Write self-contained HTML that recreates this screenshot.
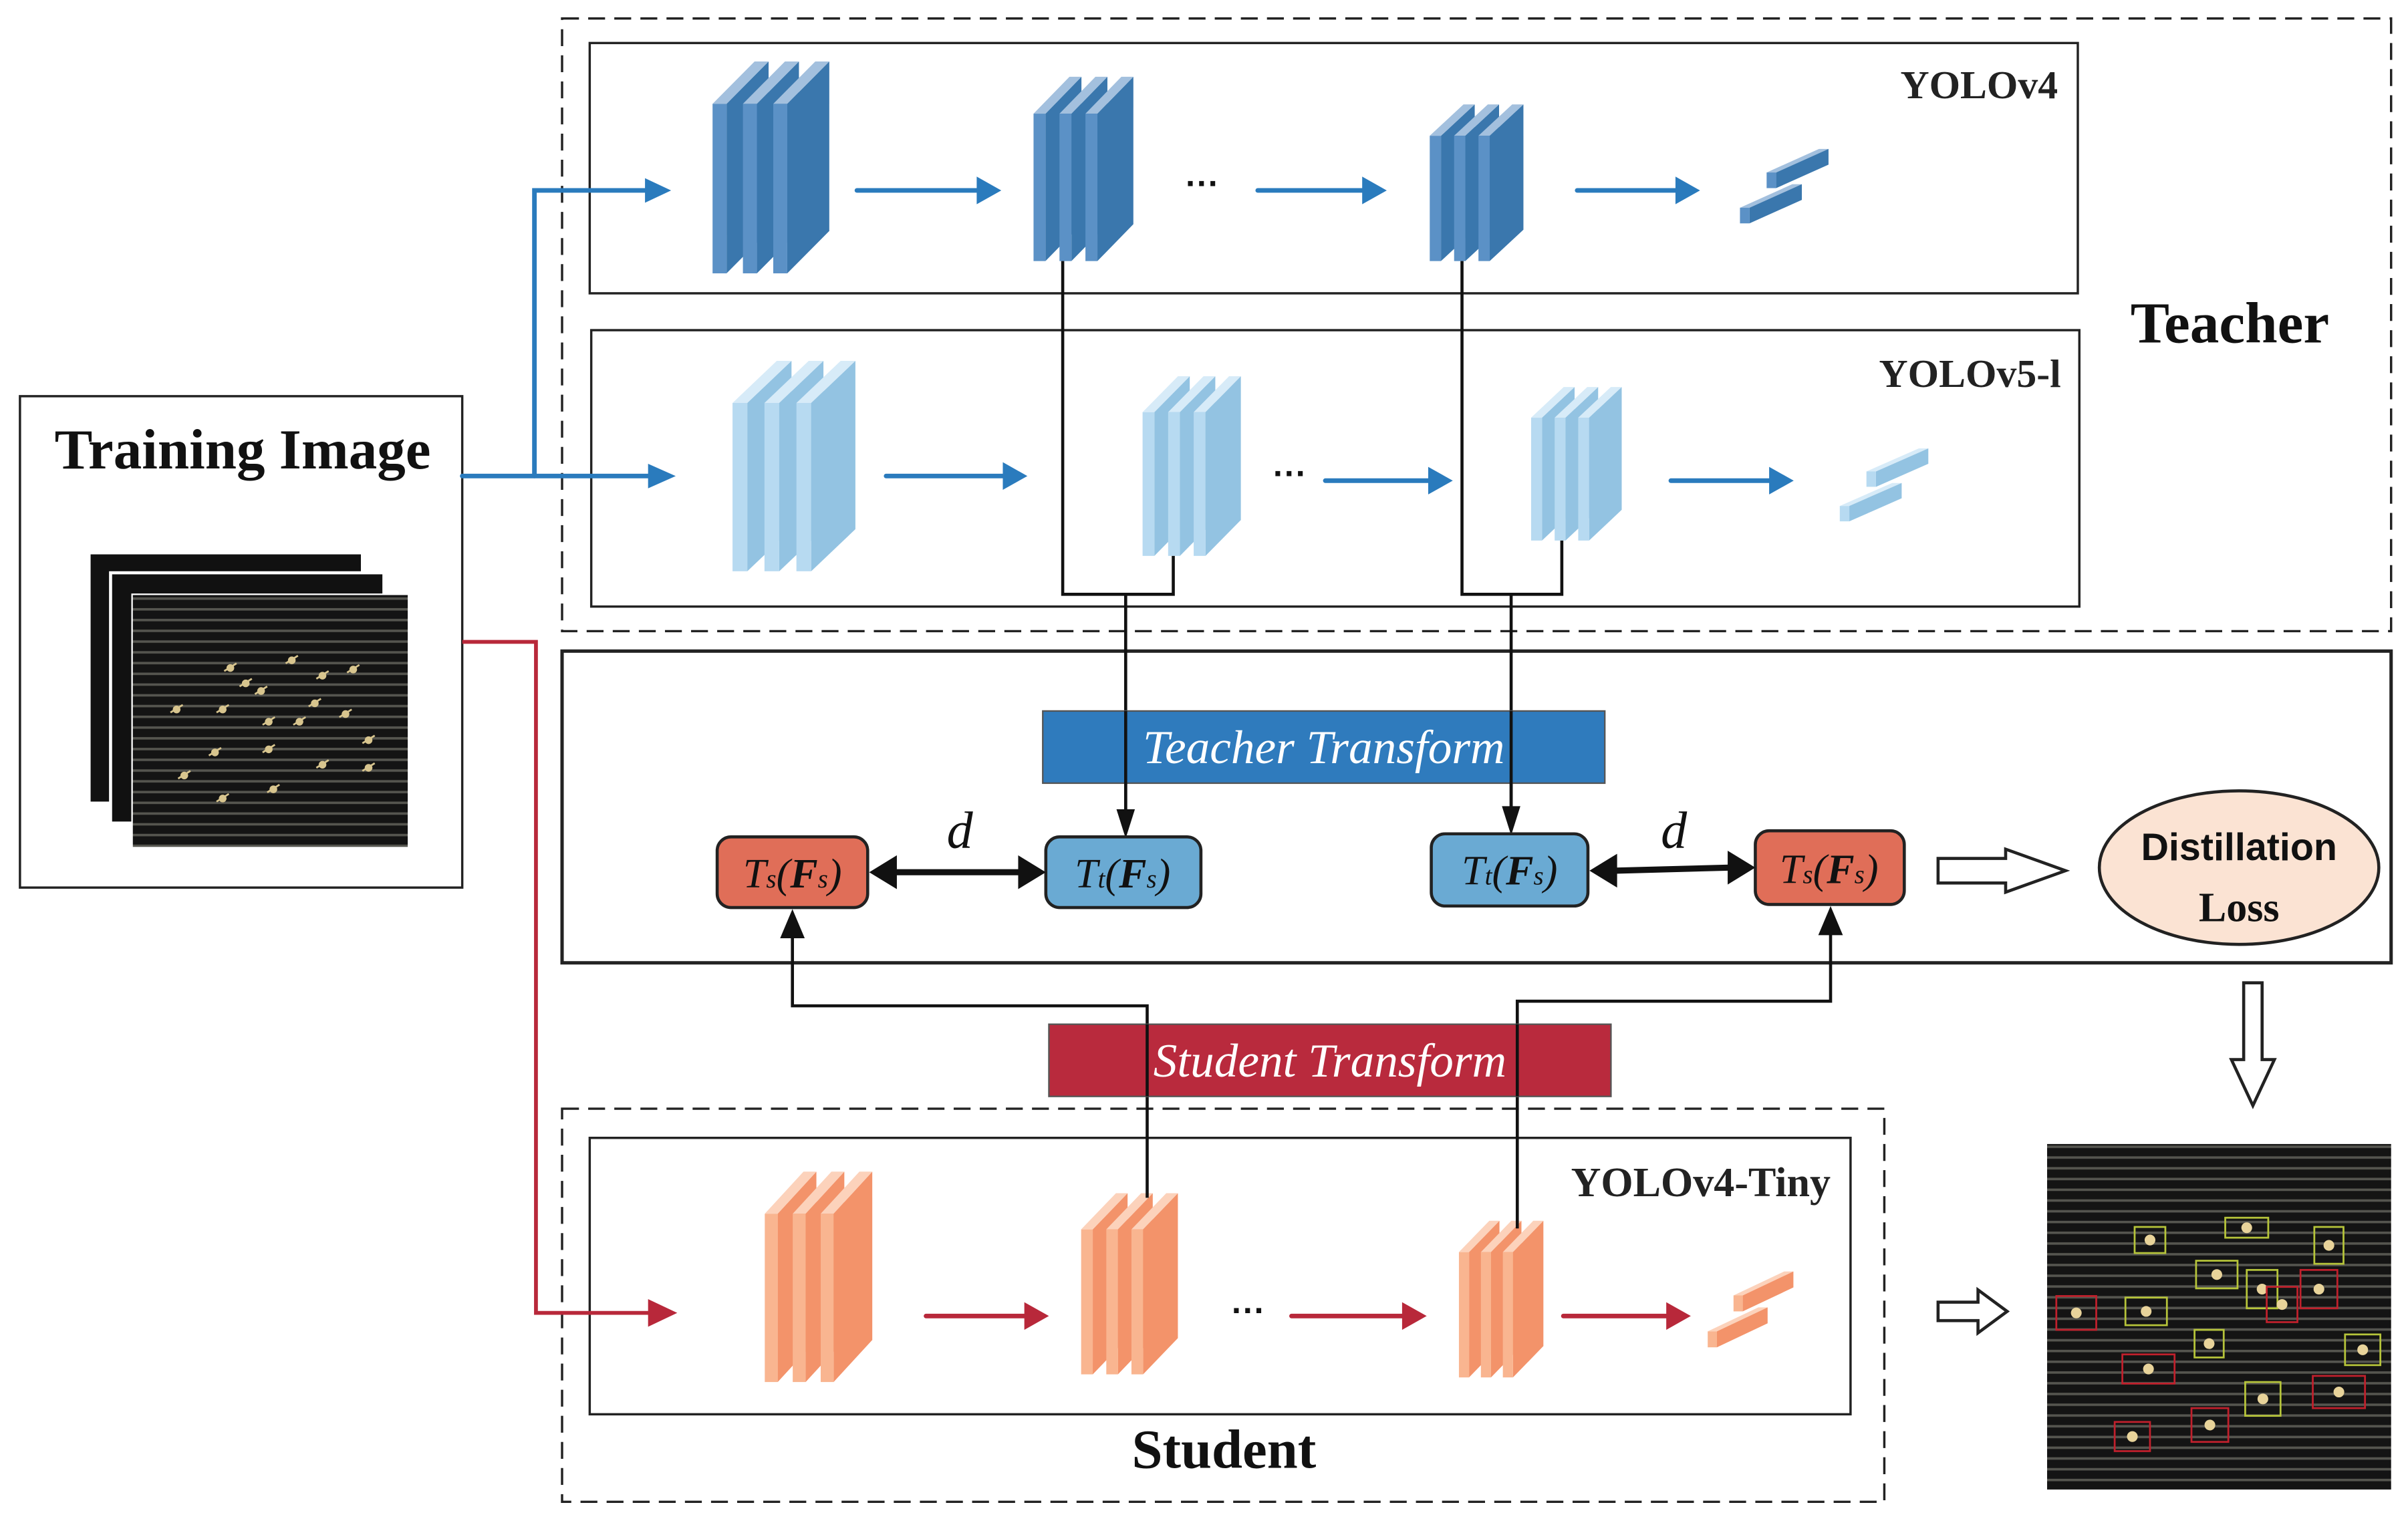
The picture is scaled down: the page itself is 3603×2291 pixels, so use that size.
<!DOCTYPE html>
<html><head><meta charset="utf-8"><style>
html,body{margin:0;padding:0;background:#fff;}
svg{display:block;}
.serif{font-family:"Liberation Serif",serif;}
</style></head><body>
<svg id="s" width="3603" height="2291" viewBox="0 0 1568 997" xmlns="http://www.w3.org/2000/svg">
<defs>
<pattern id="stripe" width="10" height="7" patternUnits="userSpaceOnUse"><rect width="10" height="7" fill="#141414"/><rect y="4" width="10" height="1.6" fill="#55554f"/></pattern>
</defs>
<rect width="1568" height="997" fill="#fff"/>
<rect x="366" y="12" width="1191" height="399" fill="none" stroke="#222" stroke-width="1.5" stroke-dasharray="11,6"/>
<rect x="384" y="28" width="969" height="163" fill="none" stroke="#222" stroke-width="1.5"/>
<rect x="385" y="215" width="969" height="180" fill="none" stroke="#222" stroke-width="1.5"/>
<text x="1340" y="64" text-anchor="end" class="serif" font-weight="bold" font-size="26" fill="#222">YOLOv4</text>
<text x="1342" y="252" text-anchor="end" class="serif" font-weight="bold" font-size="26" fill="#222">YOLOv5-l</text>
<text x="1452" y="223" text-anchor="middle" class="serif" font-weight="bold" font-size="38" fill="#111">Teacher</text>
<rect x="13" y="258" width="288" height="320" fill="#fff" stroke="#222" stroke-width="1.5"/>
<text x="158" y="305" text-anchor="middle" class="serif" font-weight="bold" font-size="37" fill="#111">Training Image</text>
<rect x="58" y="360" width="178" height="163" fill="#111" stroke="#fff" stroke-width="2"/>
<rect x="72" y="373" width="178" height="163" fill="#111" stroke="#fff" stroke-width="2"/>
<rect x="86" y="387" width="180" height="165" fill="url(#stripe)" stroke="#fff" stroke-width="1"/>
<g id="dots1" fill="#d8c58e"></g>
<rect x="366" y="424" width="1191" height="203" fill="none" stroke="#222" stroke-width="2.2"/>
<rect x="366" y="722" width="861" height="256" fill="none" stroke="#222" stroke-width="1.5" stroke-dasharray="11,6"/>
<rect x="384" y="741" width="821" height="180" fill="none" stroke="#222" stroke-width="1.5"/>
<text x="1192" y="779" text-anchor="end" class="serif" font-weight="bold" font-size="27" fill="#222">YOLOv4-Tiny</text>
<text x="797" y="956" text-anchor="middle" class="serif" font-weight="bold" font-size="36" fill="#111">Student</text>
<g id="blocks"></g>
<g stroke="#2a7bbd" stroke-width="3" fill="none" stroke-linecap="round">
<path d="M301,310 H422"/><path d="M348,310 V124 H420"/>
</g>
<g fill="#2a7bbd">
<path d="M420,116 L437,124 L420,132z"/><path d="M422,302 L440,310 L422,318z"/>
</g>
<g id="arrows"></g>
<path d="M301,418 H349 V855 H424" stroke="#b8283a" stroke-width="2.5" fill="none"/>
<path d="M422,846 L441,855 L422,864z" fill="#b8283a"/>
<g stroke="#111" stroke-width="2" fill="none">
<path d="M692,170 V387 H764 V362"/><path d="M733,387 V530"/>
<path d="M952,170 V387 H1017 V352"/><path d="M984,387 V528"/>
<path d="M747,780 V655 H516 V608"/>
<path d="M988,800 V652 H1192 V606"/>
</g>
<g fill="#111">
<path d="M727,527 L733,546 L739,527z"/><path d="M978,525 L984,544 L990,525z"/>
<path d="M508,611 L516,592 L524,611z"/><path d="M1184,609 L1192,590 L1200,609z"/>
</g>
<rect x="679" y="463" width="366" height="47" fill="#2f7bbd" stroke="#555" stroke-width="1"/>
<text x="862" y="497" text-anchor="middle" class="serif" font-style="italic" font-size="31" fill="#fff">Teacher Transform</text>
<rect x="683" y="667" width="366" height="47" fill="#b92a3d" stroke="#555" stroke-width="1"/>
<text x="866" y="701" text-anchor="middle" class="serif" font-style="italic" font-size="31" fill="#fff">Student Transform</text>
<g stroke="#111" stroke-width="2"><path d="M733,463 V528"/><path d="M984,463 V526"/><path d="M747,667 V714"/><path d="M988,667 V714"/></g>
<g stroke="#222" stroke-width="2">
<rect x="467" y="545" width="98" height="46" rx="9" fill="#e06e58"/>
<rect x="681" y="545" width="101" height="46" rx="9" fill="#6aaad3"/>
<rect x="932" y="543" width="102" height="47" rx="9" fill="#6aaad3"/>
<rect x="1143" y="541" width="97" height="48" rx="9" fill="#e06e58"/>
</g>
<g class="serif" font-style="italic" font-size="27" fill="#111" text-anchor="middle">
<text x="516" y="578">T<tspan font-size="17">s</tspan>(<tspan font-weight="bold">F</tspan><tspan font-size="17">s</tspan>)</text>
<text x="731" y="578">T<tspan font-size="17">t</tspan>(<tspan font-weight="bold">F</tspan><tspan font-size="17">s</tspan>)</text>
<text x="983" y="576">T<tspan font-size="17">t</tspan>(<tspan font-weight="bold">F</tspan><tspan font-size="17">s</tspan>)</text>
<text x="1191" y="575">T<tspan font-size="17">s</tspan>(<tspan font-weight="bold">F</tspan><tspan font-size="17">s</tspan>)</text>
<text x="625" y="552" font-size="34">d</text>
<text x="1090" y="552" font-size="34">d</text>
</g>
<g fill="#111">
<path d="M583,568 H664" stroke="#111" stroke-width="4"/>
<path d="M566,568 L584,557 L584,579z"/><path d="M681,568 L663,557 L663,579z"/>
<path d="M1052,567 L1126,565" stroke="#111" stroke-width="4"/>
<path d="M1035,567 L1053,556 L1053,578z"/><path d="M1143,565 L1125,554 L1125,576z"/>
</g>
<g fill="#fff" stroke="#222" stroke-width="2">
<path d="M1262,559 H1306 V553 L1345,567 L1306,581 V575 H1262z"/>
<path d="M1461,640 V690 H1453 L1467,720 L1481,690 H1473 V640z"/>
<path d="M1262,848 H1288 V840 L1307,854 L1288,868 V860 H1262z"/>
</g>
<ellipse cx="1458" cy="565" rx="91" ry="50" fill="#fbe3d3" stroke="#222" stroke-width="2"/>
<text x="1458" y="560" text-anchor="middle" font-family="Liberation Sans,sans-serif" font-weight="bold" font-size="25" fill="#111">Distillation</text>
<text x="1458" y="600" text-anchor="middle" class="serif" font-weight="bold" font-size="27" fill="#111">Loss</text>
<rect x="1333" y="745" width="224" height="225" fill="url(#stripe)"/>
<g id="res" fill="none" stroke-width="1.2"></g>
<g font-family="Liberation Sans,sans-serif" font-weight="bold" font-size="22" fill="#111" text-anchor="middle">
<text x="783" y="127">···</text><text x="840" y="316">···</text><text x="813" y="861">···</text>
</g>
</svg>
<script>
var NS="http://www.w3.org/2000/svg";
function el(p,t,a){var e=document.createElementNS(NS,t);for(var k in a)e.setAttribute(k,a[k]);p.appendChild(e);return e;}
var B=document.getElementById('blocks');
function block(x0,x1,y0,y1,c){
 var W=x1-x0, gap=W*0.26, fw=W*0.12, dx=W-2*gap-fw, dy=(y1-y0)*0.2;
 for(var i=0;i<3;i++){
  var x=x0+i*gap, yt=y0+dy;
  el(B,'polygon',{points:(x+fw)+','+yt+' '+(x+fw+dx)+','+y0+' '+(x+fw+dx)+','+(y1-dy)+' '+(x+fw)+','+y1,fill:c[0]});
  el(B,'polygon',{points:x+','+yt+' '+(x+dx)+','+y0+' '+(x+fw+dx)+','+y0+' '+(x+fw)+','+yt,fill:c[2]});
  el(B,'rect',{x:x,y:yt,width:fw,height:y1-yt,fill:c[1]});
 }
}
function small(x0,x1,y0,y1,c){
 var w=x1-x0,h=y1-y0;
 for(var i=0;i<2;i++){
  var ox=x0+i*w*0.28, oy=y0+h*0.45-i*h*0.45;
  var t=w*0.1;
  el(B,'polygon',{points:ox+','+(oy+h*0.3)+' '+(ox+w*0.55)+','+oy+' '+(ox+w*0.55+t)+','+oy+' '+(ox+t)+','+(oy+h*0.3),fill:c[2]});
  el(B,'polygon',{points:(ox+t)+','+(oy+h*0.3)+' '+(ox+w*0.55+t)+','+oy+' '+(ox+w*0.55+t)+','+(oy+h*0.2)+' '+(ox+t)+','+(oy+h*0.5),fill:c[0]});
  el(B,'rect',{x:ox,y:oy+h*0.3,width:t,height:h*0.2,fill:c[1]});
 }
}
var dark=['#3a77ad','#5b91c6','#a3c0de'], light=['#93c3e2','#b7daf1','#d7ebf8'], org=['#f3936a','#f9b590','#fcd2bb'];
block(464,540,40,178,dark);block(673,738,50,170,dark);block(931,992,68,170,dark);small(1133,1195,97,148,dark);
block(477,557,235,372,light);block(744,808,245,362,light);block(997,1056,252,352,light);small(1198,1260,292,342,light);
block(498,568,763,900,org);block(704,767,777,895,org);block(950,1005,795,897,org);small(1112,1172,828,880,org);
var A=document.getElementById('arrows');
function arr(x1,x2,y,c){el(A,'line',{x1:x1,y1:y,x2:x2-14,y2:y,stroke:c,'stroke-width':3,'stroke-linecap':'round'});el(A,'path',{d:'M'+(x2-16)+','+(y-9)+' L'+x2+','+y+' L'+(x2-16)+','+(y+9)+'z',fill:c});}
var bl='#2a7bbd',rd='#b8283a';
arr(558,652,124,bl);arr(819,903,124,bl);arr(1027,1107,124,bl);
arr(577,669,310,bl);arr(863,946,313,bl);arr(1088,1168,313,bl);
arr(603,683,857,rd);arr(841,929,857,rd);arr(1018,1101,857,rd);
var D=document.getElementById('dots1');
var pts=[[150,435],[170,450],[190,430],[210,440],[230,436],[115,462],[145,462],[175,470],[205,458],[240,482],[140,490],[175,488],[210,498],[240,500],[145,520],[178,514],[120,505],[195,470],[160,445],[225,465]];
pts.forEach(function(p){el(D,'circle',{cx:p[0],cy:p[1],r:2.5});el(D,'line',{x1:p[0]-4,y1:p[1]+2,x2:p[0]+4,y2:p[1]-3,stroke:'#d8c58e','stroke-width':1.2});});
var R=document.getElementById('res');
var bx=[[1390,799,20,17,'y'],[1449,793,28,13,'y'],[1507,799,19,24,'y'],[1430,821,27,18,'y'],[1463,827,20,25,'y'],[1498,827,24,25,'r'],[1339,844,26,22,'r'],[1384,845,27,18,'y'],[1476,838,20,23,'r'],[1429,866,19,18,'y'],[1382,882,34,19,'r'],[1527,869,23,20,'y'],[1462,900,23,22,'y'],[1506,896,34,21,'r'],[1377,926,23,19,'r'],[1427,917,24,22,'r']];
bx.forEach(function(b){el(R,'rect',{x:b[0],y:b[1],width:b[2],height:b[3],stroke:b[4]=='y'?'#b6c43a':'#c0202c'});el(R,'circle',{cx:b[0]+b[2]/2,cy:b[1]+b[3]/2,r:3.5,fill:'#e8d39a',stroke:'none'});});
</script>
</body></html>
